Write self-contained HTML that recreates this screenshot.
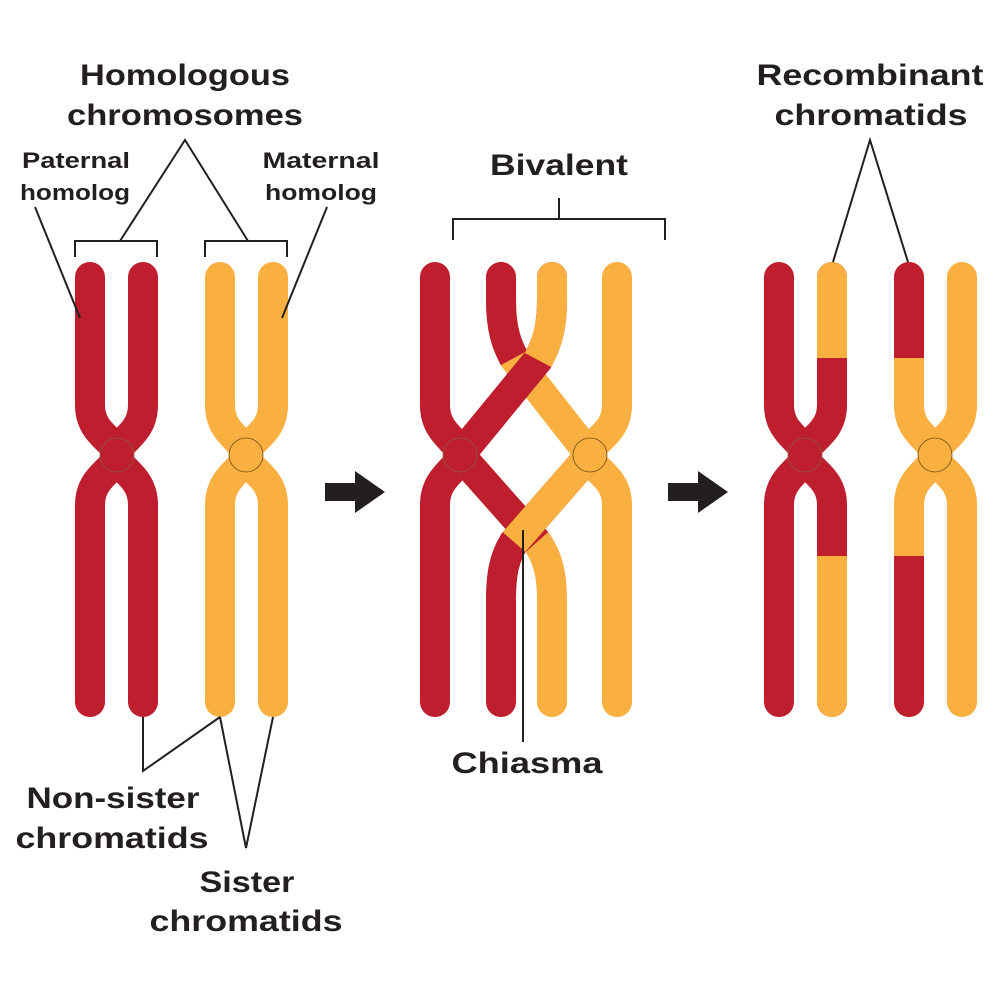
<!DOCTYPE html>
<html><head><meta charset="utf-8"><style>
html,body{margin:0;padding:0;background:#fff}
svg{display:block}
text{font-family:"Liberation Sans",sans-serif;font-weight:bold;fill:#231f20;text-anchor:middle}
</style></head><body>
<svg width="1000" height="1000" viewBox="0 0 1000 1000" xmlns="http://www.w3.org/2000/svg">
<g fill="none" stroke-width="30" stroke-linecap="round">
<!-- Left panel -->
<path d="M90,277 L90,405 C90,435 117,440 117,455 C117,470 90,475 90,505 L90,702" stroke="#BE1E2D"/>
<path d="M143,277 L143,405 C143,435 117,440 117,455 C117,470 143,475 143,505 L143,702" stroke="#BE1E2D"/>
<path d="M220,277 L220,405 C220,435 246,440 246,455 C246,470 220,475 220,505 L220,702" stroke="#F9B040"/>
<path d="M273,277 L273,405 C273,435 246,440 246,455 C246,470 273,475 273,505 L273,702" stroke="#F9B040"/>
<!-- Middle panel -->
<path d="M435,277 L435,405 C435,435 460,440 460,455 C460,470 435,475 435,505 L435,702" stroke="#BE1E2D"/>
<path d="M617,277 L617,405 C617,435 590,440 590,455 C590,470 617,475 617,505 L617,702" stroke="#F9B040"/>
<!-- lower: yellow-centromere -> bottom 501 (full yellow then red overlay) drawn first under? order: red-from-red-centromere under, yellow over -->
<path d="M460,455 L537,542 C548,558 552,575 552,600 L552,702" stroke="#F9B040"/>
<path d="M460,455 L537,542" stroke="#BE1E2D" stroke-linecap="butt"/>
<path d="M590,455 L514,542 C504,558 501,575 501,600 L501,702" stroke="#BE1E2D"/>
<path d="M590,455 L514,542" stroke="#F9B040" stroke-linecap="butt"/>
<!-- upper: red top -> yellow to yellow centromere -->
<path d="M501,277 L501,300 C501,330 507,345 514,358 L590,455" stroke="#F9B040"/>
<path d="M501,277 L501,300 C501,330 507,345 514,358" stroke="#BE1E2D" stroke-linecap="butt"/>
<circle cx="501" cy="277" r="15" fill="#BE1E2D" stroke="none"/>
<!-- yellow top -> red to red centromere (on top) -->
<path d="M552,277 L552,300 C552,330 546,345 538,360 L460,455" stroke="#BE1E2D"/>
<path d="M552,277 L552,300 C552,330 546,345 538,360" stroke="#F9B040" stroke-linecap="butt"/>
<circle cx="552" cy="277" r="15" fill="#F9B040" stroke="none"/>
<!-- Right panel -->
<path d="M779,277 L779,405 C779,435 805,440 805,455 C805,470 779,475 779,505 L779,702" stroke="#BE1E2D"/>
<path d="M832,277 L832,405 C832,435 805,440 805,455 C805,470 832,475 832,505 L832,702" stroke="#BE1E2D"/>
<path d="M909,277 L909,405 C909,435 935,440 935,455 C935,470 909,475 909,505 L909,702" stroke="#F9B040"/>
<path d="M962,277 L962,405 C962,435 935,440 935,455 C935,470 962,475 962,505 L962,702" stroke="#F9B040"/>
</g>
<!-- right panel bands -->
<rect x="817" y="262" width="30" height="96" rx="15" fill="#F9B040"/>
<rect x="817" y="290" width="30" height="68" fill="#F9B040"/>
<rect x="817" y="556" width="30" height="161" rx="15" fill="#F9B040"/>
<rect x="817" y="556" width="30" height="40" fill="#F9B040"/>
<rect x="894" y="262" width="30" height="96" rx="15" fill="#BE1E2D"/>
<rect x="894" y="290" width="30" height="68" fill="#BE1E2D"/>
<rect x="894" y="556" width="30" height="161" rx="15" fill="#BE1E2D"/>
<rect x="894" y="556" width="30" height="40" fill="#BE1E2D"/>
<!-- centromeres -->
<g stroke-width="0.8">
<circle cx="117" cy="455" r="17" fill="#BE1E2D" stroke="#8a5a3a"/>
<circle cx="246" cy="455" r="17" fill="#F9B040" stroke="#6b4a1a"/>
<circle cx="460" cy="455" r="17" fill="#BE1E2D" stroke="#8a5a3a"/>
<circle cx="590" cy="455" r="17" fill="#F9B040" stroke="#6b4a1a"/>
<circle cx="805" cy="455" r="17" fill="#BE1E2D" stroke="#8a5a3a"/>
<circle cx="935" cy="455" r="17" fill="#F9B040" stroke="#6b4a1a"/>
</g>
<!-- lines -->
<g fill="none" stroke="#231f20" stroke-width="2">
<path d="M120,241 L185,140 L248,241"/>
<path d="M75,257 L75,241 L157,241 L157,257"/>
<path d="M205,257 L205,241 L287,241 L287,257"/>
<path d="M35,207 L80,318"/>
<path d="M327,207 L282,318"/>
<path d="M453,240 L453,219 L665,219 L665,240 M559,219 L559,198"/>
<path d="M833,262 L870,140 L908,262"/>
<path d="M523,530 L523,742"/>
<path d="M143,717 L143,771 L220,717"/>
<path d="M220,717 L246,848 L273,717"/>
</g>
<!-- arrows -->
<polygon points="325,483 355,483 355,471 385,492 355,513 355,501 325,501" fill="#231f20"/>
<polygon points="668,483 698,483 698,471 728,492 698,513 698,501 668,501" fill="#231f20"/>
<!-- text -->
<text x="185" y="85" font-size="30" textLength="210" lengthAdjust="spacingAndGlyphs">Homologous</text>
<text x="185" y="125" font-size="30" textLength="236" lengthAdjust="spacingAndGlyphs">chromosomes</text>
<text x="76" y="168" font-size="22" textLength="108" lengthAdjust="spacingAndGlyphs">Paternal</text>
<text x="75" y="200" font-size="22" textLength="110" lengthAdjust="spacingAndGlyphs">homolog</text>
<text x="321" y="168" font-size="22" textLength="117" lengthAdjust="spacingAndGlyphs">Maternal</text>
<text x="321" y="200" font-size="22" textLength="112" lengthAdjust="spacingAndGlyphs">homolog</text>
<text x="559" y="175" font-size="30" textLength="138" lengthAdjust="spacingAndGlyphs">Bivalent</text>
<text x="870" y="85" font-size="30" textLength="227" lengthAdjust="spacingAndGlyphs">Recombinant</text>
<text x="871" y="125" font-size="30" textLength="193" lengthAdjust="spacingAndGlyphs">chromatids</text>
<text x="527" y="773" font-size="30" textLength="151" lengthAdjust="spacingAndGlyphs">Chiasma</text>
<text x="113" y="808" font-size="30" textLength="173" lengthAdjust="spacingAndGlyphs">Non-sister</text>
<text x="112" y="848" font-size="30" textLength="193" lengthAdjust="spacingAndGlyphs">chromatids</text>
<text x="247" y="892" font-size="30" textLength="95" lengthAdjust="spacingAndGlyphs">Sister</text>
<text x="246" y="931" font-size="30" textLength="193" lengthAdjust="spacingAndGlyphs">chromatids</text>
</svg>
</body></html>
